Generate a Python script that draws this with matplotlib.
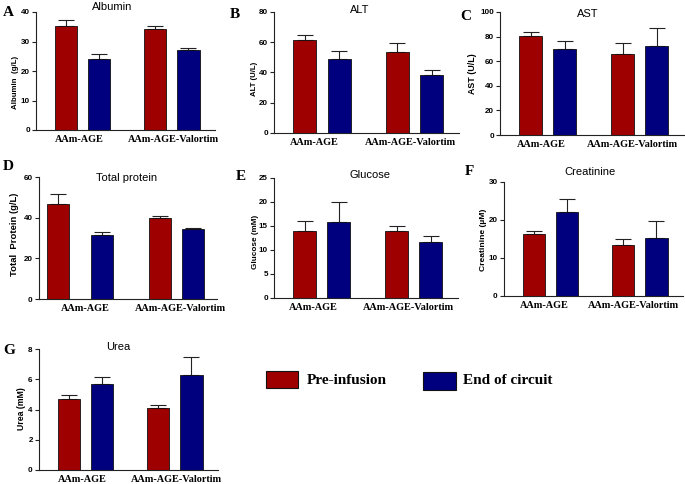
import matplotlib
matplotlib.use("Agg")
import matplotlib.pyplot as plt
from matplotlib.patches import Rectangle

W, H = 685, 484

groups = ["AAm-AGE", "AAm-AGE-Valortim"]
series_names = ["Pre-infusion", "End of circuit"]
colors = ["#9E0000", "#00007F"]

albumin_pre = [35.2, 34.1]
albumin_pre_err = [2.0, 1.3]
albumin_end = [24.2, 27.0]
albumin_end_err = [1.4, 0.8]

alt_pre = [61.3, 53.8]
alt_pre_err = [3.8, 5.5]
alt_end = [49.2, 38.2]
alt_end_err = [4.9, 3.3]

ast_pre = [80.2, 66.0]
ast_pre_err = [3.5, 9.0]
ast_end = [69.8, 72.3]
ast_end_err = [6.3, 14.9]

tp_pre = [46.9, 40.0]
tp_pre_err = [4.7, 0.8]
tp_end = [31.5, 34.3]
tp_end_err = [1.5, 0.5]

glu_pre = [13.9, 13.9]
glu_pre_err = [2.1, 1.0]
glu_end = [15.8, 11.6]
glu_end_err = [4.2, 1.3]

crea_pre = [16.3, 13.4]
crea_pre_err = [0.8, 1.5]
crea_end = [22.0, 15.2]
crea_end_err = [3.5, 4.5]

urea_pre = [4.71, 4.10]
urea_pre_err = [0.27, 0.22]
urea_end = [5.66, 6.28]
urea_end_err = [0.51, 1.21]

panels = [
    # letter, title, ylabel, pre, pre_err, end, end_err, yticks
    ("A", "Albumin", "Albumin  (g/L)", albumin_pre, albumin_pre_err, albumin_end, albumin_end_err, [0, 10, 20, 30, 40]),
    ("B", "ALT", "ALT (U/L)", alt_pre, alt_pre_err, alt_end, alt_end_err, [0, 20, 40, 60, 80]),
    ("C", "AST", "AST (U/L)", ast_pre, ast_pre_err, ast_end, ast_end_err, [0, 20, 40, 60, 80, 100]),
    ("D", "Total protein", "Total  Protein (g/L)", tp_pre, tp_pre_err, tp_end, tp_end_err, [0, 20, 40, 60]),
    ("E", "Glucose", "Glucose (mM)", glu_pre, glu_pre_err, glu_end, glu_end_err, [0, 5, 10, 15, 20, 25]),
    ("F", "Creatinine", "Creatinine (\u00b5M)", crea_pre, crea_pre_err, crea_end, crea_end_err, [0, 10, 20, 30]),
    ("G", "Urea", "Urea (mM)", urea_pre, urea_pre_err, urea_end, urea_end_err, [0, 2, 4, 6, 8]),
]

# layout (pixels): axes box (left, top, right, bottom)
boxes = [
    (36, 12, 215, 130),
    (274, 12, 459, 133),
    (500, 12, 684, 135),
    (39, 177, 217, 299),
    (274, 178, 458, 298),
    (504, 182, 683, 296),
    (39, 349, 218, 470),
]
# bar positions (red1, blue1, red2, blue2) in axis units
positions = [
    (0, 1, 2.7, 3.7),
    (0, 1, 2.7, 3.7),
    (0, 1, 2.7, 3.7),
    (-0.33, 1.0, 2.76, 3.78),
    (0, 1, 2.7, 3.7),
    (0, 1, 2.7, 3.7),
    (0, 1, 2.7, 3.7),
]
label_shift = [(-0.08, 0.06), (-0.22, -0.12), (-0.18, -0.2), (0.18, 0.12),
               (-0.25, -0.16), (-0.19, -0.2), (-0.1, 0.05)]
letter_pos = [(3, 12), (230, 14), (460, 16), (3, 167), (236, 176), (465, 172), (3, 350)]
title_pos = [(112, 7), (360, 10), (588, 14), (127, 178), (370, 175), (590, 172), (118, 347)]
ylabel_pos = [(16, 82), (254, 79), (473, 74), (15, 234), (256, 242), (483, 240), (22, 409)]
ylabel_size = [5.7, 5.6, 6.4, 6.8, 5.9, 6.1, 6.3]

fig = plt.figure(figsize=(W / 100, H / 100), dpi=100)
fig.patch.set_facecolor("white")

sans = ["Liberation Sans", "DejaVu Sans"]
serif = ["Liberation Serif", "DejaVu Serif"]


def fx(x):
    return x / W


def fy(y):
    return 1 - y / H


for i, (letter, title, ylab, pre, pre_e, end, end_e, yt) in enumerate(panels):
    l, t, r, b = boxes[i]
    ax = fig.add_axes([fx(l), fy(b), (r - l) / W, (b - t) / H])
    p = positions[i]
    ax.bar([p[0], p[2]], pre, width=0.67, color=colors[0], edgecolor="#111111",
           linewidth=0.6, zorder=2)
    ax.bar([p[1], p[3]], end, width=0.67, color=colors[1], edgecolor="#111111",
           linewidth=0.6, zorder=2)
    ax.errorbar([p[0], p[2]], pre, yerr=[[0, 0], pre_e], fmt="none", ecolor="#222222",
                elinewidth=0.8, capsize=5.5, capthick=0.8, zorder=1)
    ax.errorbar([p[1], p[3]], end, yerr=[[0, 0], end_e], fmt="none", ecolor="#222222",
                elinewidth=0.8, capsize=5.5, capthick=0.8, zorder=1)
    ax.set_xlim(-0.9, 4.5)
    ax.set_ylim(yt[0], yt[-1])
    ax.set_yticks(yt)
    ax.set_yticklabels([str(v) for v in yt], fontsize=5.8, fontweight="bold", family=sans)
    s1, s2 = label_shift[i]
    ax.set_xticks([(p[0] + p[1]) / 2 + s1, (p[2] + p[3]) / 2 + s2])
    ax.set_xticklabels(groups, fontsize=7.4, fontweight="bold", family=serif)
    ax.tick_params(axis="x", length=0, pad=3.5)
    ax.tick_params(axis="y", length=3, width=0.8, pad=1.5, color="#222222")
    for s in ["top", "right"]:
        ax.spines[s].set_visible(False)
    for s in ["left", "bottom"]:
        ax.spines[s].set_color("#222222")
        ax.spines[s].set_linewidth(0.8)
    ax.set_facecolor("none")

    lx, ly = letter_pos[i]
    fig.text(fx(lx), fy(ly), letter, fontsize=11, fontweight="bold", family=serif,
             ha="left", va="center")
    tx, ty = title_pos[i]
    fig.text(fx(tx), fy(ty), title, fontsize=8, family=sans, ha="center", va="center")
    yx, yy = ylabel_pos[i]
    fig.text(fx(yx), fy(yy), ylab, fontsize=ylabel_size[i], fontweight="bold", family=sans,
             rotation=90, ha="center", va="center")

# legend
leg = [((266, 371, 298, 388), (307, 380)), ((423, 372, 456, 390), (463, 381))]
for k, ((x0, y0, x1, y1), (tx, ty)) in enumerate(leg):
    fig.add_artist(Rectangle((fx(x0), fy(y1)), (x1 - x0) / W, (y1 - y0) / H,
                             transform=fig.transFigure, facecolor=colors[k],
                             edgecolor="#111111", linewidth=0.8))
    fig.text(fx(tx), fy(ty), series_names[k], fontsize=11, fontweight="bold",
             family=serif, ha="left", va="center")

fig.savefig("out.png", dpi=100)
